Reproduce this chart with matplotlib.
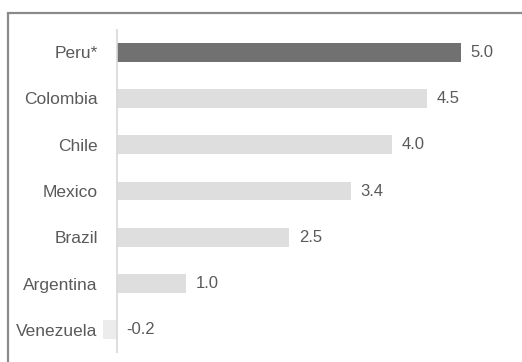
import matplotlib
matplotlib.use("Agg")
import matplotlib.pyplot as plt
from matplotlib.patches import Rectangle

countries = ["Peru*", "Colombia", "Chile", "Mexico", "Brazil", "Argentina", "Venezuela"]
growth = [5.0, 4.5, 4.0, 3.4, 2.5, 1.0, -0.2]
labels = ["5.0", "4.5", "4.0", "3.4", "2.5", "1.0", "-0.2"]

plt.rcParams["font.family"] = ["Liberation Sans", "DejaVu Sans"]

W, H = 522, 362
fig = plt.figure(figsize=(W / 100, H / 100), dpi=100)
fig.patch.set_facecolor("white")

# outer frame (cut off on right and bottom like the scan)
fig.add_artist(Rectangle((8 / W, -0.2), 1.2, 1.2 - 13 / H,
                         transform=fig.transFigure, fill=False,
                         edgecolor="#8a8a8a", linewidth=1.6))

x0, x1 = -0.26, 5.8
left_px = 117 + x0 * 68.8
right_px = 117 + x1 * 68.8
ax = fig.add_axes([left_px / W, 1 - 353 / H, (right_px - left_px) / W, (353 - 29) / H])

colors = ["#717171"] + ["#dedede"] * (len(countries) - 2) + ["#ececec"]
ypos = list(range(len(countries)))
ax.barh(ypos, growth, height=0.41, color=colors, zorder=2)
ax.axvline(0, color="#d8d8d8", linewidth=1.2, zorder=3)

txt_color = "#5a5a5a"
for y, v, lab in zip(ypos, growth, labels):
    ax.text(max(v, 0) + 0.14, y, lab, va="center", ha="left",
            fontsize=12, color=txt_color)

ax.set_xlim(x0, x1)
ax.set_ylim(len(countries) - 0.5, -0.5)
ax.set_yticks(ypos)
ax.set_yticklabels(countries, fontsize=12.5, color=txt_color)
ax.tick_params(axis="y", length=0, pad=1)
ax.set_xticks([])
for s in ax.spines.values():
    s.set_visible(False)

fig.savefig("out.png", dpi=100)
